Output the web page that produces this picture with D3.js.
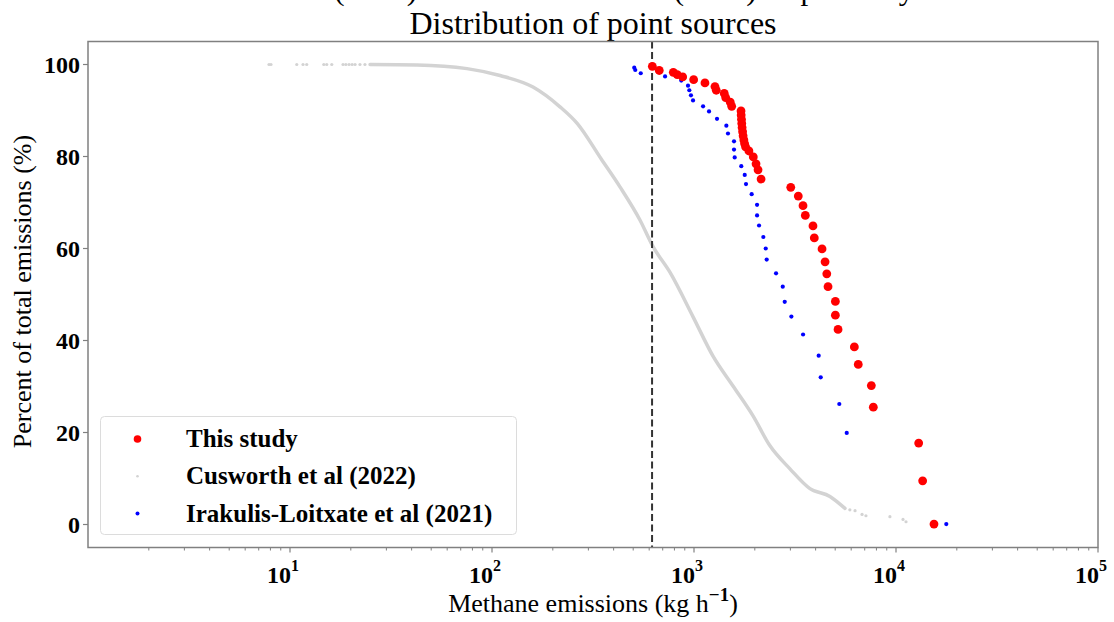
<!DOCTYPE html>
<html>
<head>
<meta charset="utf-8">
<script src="https://cdn.jsdelivr.net/npm/d3@7"></script>
<style>
  body { margin: 0; background: #fff; }
  svg { display: block; }
</style>
</head>
<body>
<div id="chart"></div>
<script>
// ### Data ###
var redX = [622, 673, 790, 826, 879, 996, 1133, 1270, 1289, 1412, 1435, 1512, 1537, 1709, 1712, 1718, 1724, 1730, 1740, 1750, 1765, 1780, 1800,
            1870, 1966, 2028, 2075, 2148, 3013, 3283, 3465, 3557, 3882, 3941, 4304, 4455, 4543, 4608, 5010, 5010, 5165, 6220, 6505, 7550, 7722,
            12950, 13550, 15420];
var redY = [99.6, 98.7, 98.3, 97.8, 97.3, 96.7, 96.0, 95.2, 94.4, 93.7, 92.8, 91.8, 90.9, 89.9, 89.0, 88.1, 87.2, 86.3, 85.4, 84.5, 83.6, 82.8, 82.1,
            81.2, 79.9, 78.4, 77.1, 75.1, 73.3, 71.4, 69.3, 67.2, 64.9, 62.3, 59.9, 57.1, 54.5, 51.7, 48.5, 45.5, 42.4, 38.6, 34.8, 30.2, 25.5,
            17.7, 9.5, 0.1];

var blueX = [506, 512, 545, 719, 865, 934, 948, 966, 989, 1109, 1187, 1300, 1446, 1473, 1578, 1578, 1590, 1714, 1783, 1809, 1930, 2052, 2052,
             2099, 2204, 2265, 2290, 2548, 2750, 2813, 3034, 3467, 4142, 4240, 5240, 5703, 17740];
var blueY = [99.3, 98.8, 98.1, 97.4, 96.5, 95.4, 94.4, 93.3, 92.2, 90.9, 89.8, 88.2, 86.7, 85.0, 83.3, 81.5, 79.8, 77.9, 76.0, 74.0, 71.8, 69.5, 67.2,
             65.0, 62.5, 60.0, 57.6, 54.6, 51.7, 48.4, 45.2, 41.3, 36.7, 32.0, 26.2, 19.9, 0.1];

// dense part of Cusworth et al (drawn as a band)
var grayX = [24.9, 42.5, 75.2, 109.6, 159.6, 217, 264, 348, 430, 540, 627, 761, 988, 1242, 1560, 1960, 2378, 2986, 3750, 4710, 5590];
var grayY = [100, 99.9, 99.1, 97.6, 95.1, 90.8, 87.2, 79.4, 73.4, 66.2, 60.4, 54.8, 45.2, 36.6, 30.1, 23.6, 17.1, 12.1, 7.8, 6.1, 3.5];
// sparse points of Cusworth et al
var graySparseX = [7.87, 8.05, 10.8, 11.6, 12.1, 14.7, 15.2, 16.1, 18.3, 18.9, 19.6, 20.3, 21.0, 22.2, 23.5, 5910, 6270, 6790, 7100, 9330, 10830, 11210];
var graySparseY = [100, 100, 100, 100, 100, 100, 100, 100, 100, 100, 100, 100, 100, 100, 100, 3.2, 3.0, 2.2, 1.9, 1.7, 1.1, 0.6];

var thresholdX = 620;

var xTickExp = [1, 2, 3, 4, 5];
var yTicks = [0, 20, 40, 60, 80, 100];
var legendLabels = ["This study", "Cusworth et al (2022)", "Irakulis-Loitxate et al (2021)"];

/*##########################################################################
* ### Draw chart ###########################################################
* ##########################################################################*/
function drawChart(options){
	var width = options.width,
	    height = options.height,
	    plot = {left: 88, right: 1098, top: 41.5, bottom: 547.5},
	    serif = "'Liberation Serif', 'Times New Roman', serif";

	var svg = d3.select(options.container).append("svg")
	    .attr("width", width)
	    .attr("height", height);

	var x = d3.scaleLog()
	    .domain([1, 1e5])
	    .range([plot.left, plot.right]);

	var y = d3.scaleLinear()
	    .domain([-5, 105])
	    .range([plot.bottom, plot.top]);

	// cropped caption line above the figure
	svg.append("text")
	    .attr("x", 50)
	    .attr("y", 0)
	    .attr("textLength", 870)
	    .attr("lengthAdjust", "spacingAndGlyphs")
	    .style("font", "30px " + serif)
	    .text("Irakulis-Loitxate et al. (2021) and Cusworth et al. (2022) respectively.");

	// title
	svg.append("text")
	    .attr("x", (plot.left + plot.right) / 2)
	    .attr("y", 34)
	    .attr("text-anchor", "middle")
	    .style("font", "32px " + serif)
	    .text("Distribution of point sources");

	var g = svg.append("g");

	// Cusworth band + sparse points
	var line = d3.line()
	    .x(function(d) { return x(d[0]); })
	    .y(function(d) { return y(d[1]); })
	    .curve(d3.curveMonotoneX);

	g.append("path")
	    .datum(d3.zip(grayX, grayY))
	    .attr("d", line)
	    .style("fill", "none")
	    .style("stroke", "#d3d3d3")
	    .style("stroke-width", 3.5)
	    .style("stroke-linecap", "round");

	g.selectAll(".gray-pt")
	    .data(d3.zip(graySparseX, graySparseY))
	    .enter().append("circle")
	    .attr("class", "gray-pt")
	    .attr("cx", function(d) { return x(d[0]); })
	    .attr("cy", function(d) { return y(d[1]); })
	    .attr("r", 1.6)
	    .style("fill", "#d3d3d3");

	// threshold line
	g.append("line")
	    .attr("x1", x(thresholdX))
	    .attr("x2", x(thresholdX))
	    .attr("y1", plot.top)
	    .attr("y2", plot.bottom)
	    .style("stroke", "#333")
	    .style("stroke-width", 2)
	    .style("stroke-dasharray", "7,3.5");

	// Irakulis-Loitxate points
	g.selectAll(".blue-pt")
	    .data(d3.zip(blueX, blueY))
	    .enter().append("circle")
	    .attr("class", "blue-pt")
	    .attr("cx", function(d) { return x(d[0]); })
	    .attr("cy", function(d) { return y(d[1]); })
	    .attr("r", 2.1)
	    .style("fill", "#0000ff");

	// This study points
	g.selectAll(".red-pt")
	    .data(d3.zip(redX, redY))
	    .enter().append("circle")
	    .attr("class", "red-pt")
	    .attr("cx", function(d) { return x(d[0]); })
	    .attr("cy", function(d) { return y(d[1]); })
	    .attr("r", 4.4)
	    .style("fill", "#ff0000");

	// frame
	svg.append("rect")
	    .attr("x", plot.left)
	    .attr("y", plot.top)
	    .attr("width", plot.right - plot.left)
	    .attr("height", plot.bottom - plot.top)
	    .style("fill", "none")
	    .style("stroke", "#808080")
	    .style("stroke-width", 1.5);

	// x axis ticks (major + minor)
	var xAxis = svg.append("g").attr("class", "x axis");
	var minor = [];
	xTickExp.concat([0]).forEach(function(e) {
		for (var m = 2; m <= 9; m++) {
			var v = m * Math.pow(10, e);
			if (v < 1e5) minor.push(v);
		}
	});
	xAxis.selectAll(".minor")
	    .data(minor)
	    .enter().append("line")
	    .attr("x1", function(d) { return x(d); })
	    .attr("x2", function(d) { return x(d); })
	    .attr("y1", plot.bottom)
	    .attr("y2", plot.bottom + 3)
	    .style("stroke", "#808080")
	    .style("stroke-width", 1);

	xAxis.selectAll(".major")
	    .data(xTickExp)
	    .enter().append("line")
	    .attr("x1", function(d) { return x(Math.pow(10, d)); })
	    .attr("x2", function(d) { return x(Math.pow(10, d)); })
	    .attr("y1", plot.bottom)
	    .attr("y2", plot.bottom + 5)
	    .style("stroke", "#808080")
	    .style("stroke-width", 1.2);

	var xLabels = xAxis.selectAll(".xlab")
	    .data(xTickExp)
	    .enter().append("text")
	    .attr("x", function(d) { return x(Math.pow(10, d)) - 7; })
	    .attr("y", 583)
	    .attr("text-anchor", "middle")
	    .style("font", "bold 24px " + serif);
	xLabels.append("tspan").text("10");
	xLabels.append("tspan")
	    .attr("dy", -12)
	    .style("font-size", "16px")
	    .text(function(d) { return d; });

	// y axis ticks
	var yAxis = svg.append("g").attr("class", "y axis");
	yAxis.selectAll("line")
	    .data(yTicks)
	    .enter().append("line")
	    .attr("x1", plot.left)
	    .attr("x2", plot.left - 5)
	    .attr("y1", function(d) { return y(d); })
	    .attr("y2", function(d) { return y(d); })
	    .style("stroke", "#808080")
	    .style("stroke-width", 1.2);

	yAxis.selectAll("text")
	    .data(yTicks)
	    .enter().append("text")
	    .attr("x", plot.left - 8)
	    .attr("y", function(d) { return y(d); })
	    .attr("dy", "0.35em")
	    .attr("text-anchor", "end")
	    .style("font", "bold 24px " + serif)
	    .text(function(d) { return d; });

	// axis titles
	var xTitle = svg.append("text")
	    .attr("x", (plot.left + plot.right) / 2)
	    .attr("y", 612)
	    .attr("text-anchor", "middle")
	    .style("font", "26px " + serif);
	xTitle.append("tspan").text("Methane emissions (kg h");
	xTitle.append("tspan")
	    .attr("dy", -11)
	    .style("font-weight", "bold")
	    .style("font-size", "19px")
	    .text("\u22121");
	xTitle.append("tspan")
	    .attr("dy", 11)
	    .text(")");

	svg.append("text")
	    .attr("transform", "translate(31," + ((plot.top + plot.bottom) / 2 - 3) + ") rotate(-90)")
	    .attr("text-anchor", "middle")
	    .style("font", "26px " + serif)
	    .text("Percent of total emissions (%)");

	// legend
	var legend = svg.append("g").attr("class", "legend");
	legend.append("rect")
	    .attr("x", 100.5)
	    .attr("y", 416.5)
	    .attr("width", 416)
	    .attr("height", 118)
	    .attr("rx", 4)
	    .style("fill", "#fff")
	    .style("fill-opacity", 0.8)
	    .style("stroke", "#dcdcdc")
	    .style("stroke-width", 1);

	var legendStyles = [
		{color: "#ff0000", r: 3.8},
		{color: "#d3d3d3", r: 1.3},
		{color: "#0000ff", r: 2.0}
	];
	var item = legend.selectAll(".item")
	    .data(legendLabels)
	    .enter().append("g")
	    .attr("class", "item")
	    .attr("transform", function(d, i) { return "translate(0," + (439 + i * 37.2) + ")"; });

	item.append("circle")
	    .attr("cx", 137.5)
	    .attr("cy", 0)
	    .attr("r", function(d, i) { return legendStyles[i].r; })
	    .style("fill", function(d, i) { return legendStyles[i].color; });

	item.append("text")
	    .attr("x", 186)
	    .attr("y", 0)
	    .attr("dy", "0.33em")
	    .style("font", "bold 25px " + serif)
	    .text(function(d) { return d; });

	return svg;
}

drawChart({container: "#chart", width: 1114, height: 622});
</script>
</body>
</html>
